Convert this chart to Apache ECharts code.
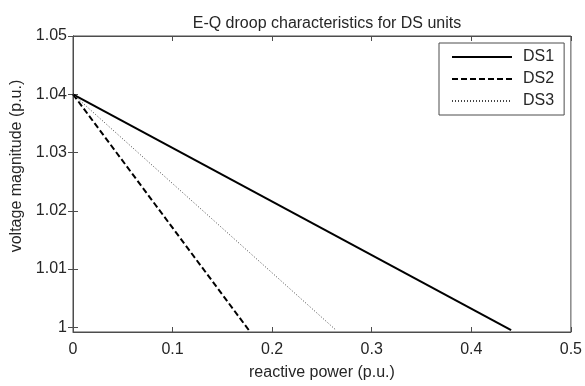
<!DOCTYPE html>
<html>
<head>
<meta charset="utf-8">
<script src="https://cdn.jsdelivr.net/npm/echarts@6/dist/echarts.min.js"></script>
<style>
  html, body { margin: 0; padding: 0; background: #fff; }
  #chart { width: 585px; height: 386px; }
</style>
</head>
<body>
<div id="chart"></div>
<script>
// E-Q droop lines: each unit starts at the no-load voltage and falls to ~1 p.u.
const seriesNames = ['DS1', 'DS2', 'DS3'];
const ds1 = [[0, 1.04], [0.440, 0.99954]];
const ds2 = [[0, 1.04], [0.1765, 0.99954]];
const ds3 = [[0, 1.04], [0.264, 0.99954]];
const yTicks = [1, 1.01, 1.02, 1.03, 1.04, 1.05];
const xTicks = [0, 0.1, 0.2, 0.3, 0.4, 0.5];

const FONT = '"Liberation Sans", Arial, sans-serif';
const TEXT = '#262626';
const AXIS = '#4d4d4d';
const FS = 16;

const fmt = v => String(parseFloat(Number(v).toFixed(2)));

const chart = echarts.init(document.getElementById('chart'), null, { renderer: 'canvas' });

chart.setOption({
  animation: false,
  backgroundColor: '#fff',
  title: {
    text: 'E-Q droop characteristics for DS units',
    left: 322, top: 11, textAlign: 'center',
    textStyle: { fontFamily: FONT, fontSize: FS, fontWeight: 'normal', color: TEXT }
  },
  grid: { left: 73, right: 13, top: 36, bottom: 52, show: true,
    borderColor: AXIS, borderWidth: 1, backgroundColor: 'transparent' },
  legend: {
    data: seriesNames,
    orient: 'vertical',
    left: 439, top: 43,
    padding: [6, 10, 6, 12],
    itemGap: 6,
    itemWidth: 60,
    itemHeight: 14,
    backgroundColor: '#fff',
    borderColor: AXIS,
    borderWidth: 1,
    borderRadius: 0,
    itemStyle: { opacity: 0, borderWidth: 0 },
    textStyle: { fontFamily: FONT, fontSize: FS, color: TEXT, padding: [0, 0, 0, 6] }
  },
  xAxis: [{
    type: 'value', min: 0, max: 0.5, interval: 0.1,
    name: 'reactive power (p.u.)', nameLocation: 'middle', nameGap: 33,
    nameTextStyle: { fontFamily: FONT, fontSize: FS, color: TEXT },
    axisLine: { show: true, lineStyle: { color: AXIS } },
    axisTick: { show: true, inside: true, length: 5, lineStyle: { color: AXIS } },
    axisLabel: { fontFamily: FONT, fontSize: FS, color: TEXT, margin: 10, formatter: fmt },
    splitLine: { show: false }
  }, {
    type: 'value', min: 0, max: 0.5, interval: 0.1, position: 'top',
    axisLine: { show: true, lineStyle: { color: AXIS } },
    axisTick: { show: true, inside: true, length: 5, lineStyle: { color: AXIS } },
    axisLabel: { show: false },
    splitLine: { show: false }
  }],
  yAxis: [{
    type: 'value', min: 0.9992, max: 1.05,
    axisLine: { show: true, lineStyle: { color: AXIS } },
    axisTick: { show: true, inside: true, length: 5, customValues: yTicks, lineStyle: { color: AXIS } },
    axisLabel: { fontFamily: FONT, fontSize: FS, color: TEXT, margin: 6, customValues: yTicks, formatter: fmt },
    splitLine: { show: false }
  }, {
    type: 'value', min: 0.9992, max: 1.05, position: 'right',
    axisLine: { show: true, lineStyle: { color: AXIS } },
    axisTick: { show: true, inside: true, length: 5, customValues: yTicks, lineStyle: { color: AXIS } },
    axisLabel: { show: false },
    splitLine: { show: false }
  }],
  graphic: [{
    type: 'text',
    x: 17, y: 166, rotation: Math.PI / 2,
    style: {
      text: 'voltage magnitude (p.u.)',
      fontFamily: FONT, fontSize: FS, fill: TEXT,
      align: 'center', verticalAlign: 'middle'
    }
  }],
  series: [{
    name: 'DS1', type: 'line', data: ds1, showSymbol: false, symbol: 'none',
    lineStyle: { color: '#000', width: 2, type: 'solid' },
    itemStyle: { color: '#000' }
  }, {
    name: 'DS2', type: 'line', data: ds2, showSymbol: false, symbol: 'none',
    lineStyle: { color: '#000', width: 2, type: [6, 3] },
    itemStyle: { color: '#000' }
  }, {
    name: 'DS3', type: 'line', data: ds3, showSymbol: false, symbol: 'none',
    lineStyle: { color: '#444', width: 1, type: [1, 2] },
    itemStyle: { color: '#444' }
  }]
});
</script>
</body>
</html>
